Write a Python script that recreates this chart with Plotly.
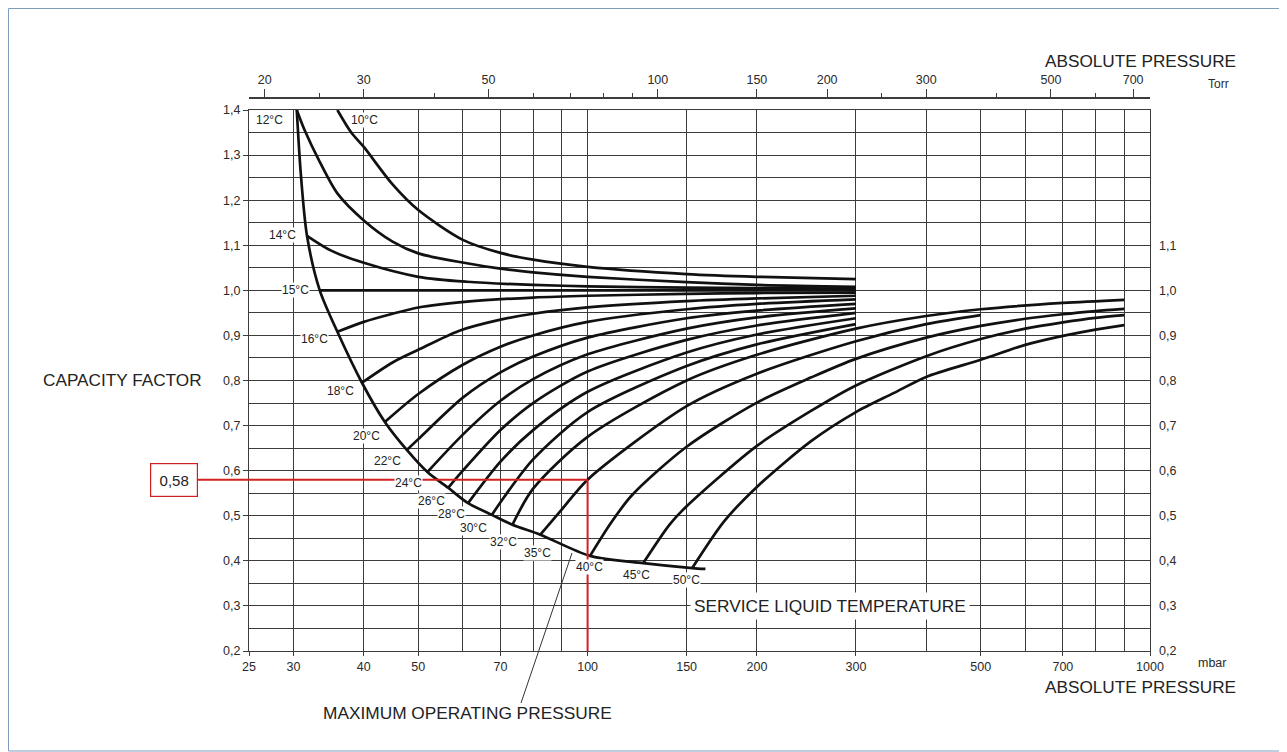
import math
import plotly.graph_objects as go

# ---------------- axis tick data ----------------
x_label_mbar = [25, 30, 40, 50, 70, 100, 150, 200, 300, 500, 700, 1000]
x_minor_mbar = [60, 80, 90, 400, 600, 800, 900]
torr_label = [20, 30, 50, 100, 150, 200, 300, 500, 700]
torr_minor = [25, 40, 60, 70, 80, 90, 250, 400, 600]
y_left = [0.2, 0.3, 0.4, 0.5, 0.6, 0.7, 0.8, 0.9, 1.0, 1.1, 1.2, 1.3, 1.4]
y_right = [0.2, 0.3, 0.4, 0.5, 0.6, 0.7, 0.8, 0.9, 1.0, 1.1]
MBAR_PER_TORR = 1.33322

# ---------------- curve data (mbar, capacity factor) ----------------
env_p = [30.4, 30.9, 31.7, 33.4, 35.9, 39.7, 43.6, 47.7, 51.9, 56.5, 61.3, 67.6, 73.5, 82.4, 101, 125.6, 153.5, 162]
env_f = [1.40, 1.26, 1.121, 1.0, 0.908, 0.795, 0.708, 0.646, 0.597, 0.562, 0.528, 0.502, 0.48, 0.458, 0.411, 0.395, 0.384, 0.382]

p_10 = [35.9, 38, 40, 45, 50, 60, 70, 80, 100, 150, 200, 300]
f_10 = [1.40, 1.35, 1.318, 1.235, 1.178, 1.112, 1.083, 1.068, 1.052, 1.036, 1.030, 1.025]
p_12 = [30.4, 31.4, 33.4, 35.9, 40, 45, 50, 61, 70, 80, 100, 150, 200, 300]
f_12 = [1.40, 1.355, 1.285, 1.215, 1.155, 1.108, 1.082, 1.06, 1.048, 1.04, 1.03, 1.018, 1.012, 1.008]
p_14 = [31.7, 35, 40, 50, 61, 80, 100, 150, 200, 300]
f_14 = [1.121, 1.088, 1.061, 1.03, 1.019, 1.012, 1.009, 1.006, 1.005, 1.004]
p_15 = [33.4, 300]
f_15 = [1.0, 1.0]
p_16 = [35.9, 40, 45, 50, 61, 80, 100, 150, 200, 300]
f_16 = [0.908, 0.93, 0.948, 0.962, 0.975, 0.984, 0.988, 0.992, 0.994, 0.995]
p_18 = [39.7, 45, 50, 59, 70, 80, 100, 150, 200, 300]
f_18 = [0.795, 0.84, 0.868, 0.91, 0.935, 0.948, 0.962, 0.976, 0.982, 0.988]
p_20 = [43.6, 50, 60, 70, 80, 100, 150, 200, 300]
f_20 = [0.708, 0.77, 0.835, 0.875, 0.9, 0.93, 0.958, 0.97, 0.98]
p_22 = [47.7, 50, 60, 70, 80, 100, 150, 200, 300]
f_22 = [0.646, 0.67, 0.762, 0.818, 0.853, 0.895, 0.938, 0.955, 0.97]
p_24 = [51.9, 60, 70, 80, 100, 150, 200, 300]
f_24 = [0.597, 0.68, 0.755, 0.803, 0.858, 0.915, 0.94, 0.96]
p_26 = [56.5, 60, 70, 80, 100, 150, 200, 300]
f_26 = [0.562, 0.6, 0.69, 0.75, 0.82, 0.89, 0.922, 0.95]
p_28 = [61.3, 70, 80, 100, 150, 200, 300]
f_28 = [0.528, 0.62, 0.69, 0.775, 0.862, 0.902, 0.938]
p_30 = [67.6, 70, 80, 100, 150, 200, 300]
f_30 = [0.502, 0.53, 0.625, 0.73, 0.832, 0.88, 0.925]
p_32 = [73.5, 80, 100, 150, 200, 300, 400, 500, 700, 900]
f_32 = [0.48, 0.56, 0.675, 0.8, 0.857, 0.915, 0.943, 0.958, 0.972, 0.979]
p_35 = [82.4, 90, 100, 150, 200, 300, 400, 500]
f_35 = [0.458, 0.514, 0.58, 0.743, 0.815, 0.887, 0.925, 0.945]
p_40 = [101, 110, 120, 150, 200, 250, 300, 400, 500, 600, 700, 800, 900]
f_40 = [0.411, 0.484, 0.546, 0.653, 0.751, 0.807, 0.848, 0.895, 0.921, 0.937, 0.947, 0.954, 0.959]
p_45 = [125.6, 140, 150, 200, 250, 300, 400, 500, 600, 700, 800, 900]
f_45 = [0.395, 0.481, 0.521, 0.655, 0.733, 0.789, 0.854, 0.892, 0.915, 0.929, 0.939, 0.945]
p_50 = [153.5, 175, 200, 250, 300, 350, 400, 500, 600, 700, 800, 900]
f_50 = [0.384, 0.488, 0.564, 0.666, 0.730, 0.772, 0.808, 0.846, 0.879, 0.899, 0.913, 0.923]

curves = [(p_10, f_10), (p_12, f_12), (p_14, f_14), (p_15, f_15), (p_16, f_16),
          (p_18, f_18), (p_20, f_20), (p_22, f_22), (p_24, f_24), (p_26, f_26),
          (p_28, f_28), (p_30, f_30), (p_32, f_32), (p_35, f_35), (p_40, f_40),
          (p_45, f_45), (p_50, f_50)]

# temperature labels and their anchor positions (mbar, factor)
temp_labels = ["12°C", "10°C", "14°C", "15°C", "16°C", "18°C", "20°C", "22°C", "24°C",
               "26°C", "28°C", "30°C", "32°C", "35°C", "40°C", "45°C", "50°C"]
label_p = [27.2, 40.1, 28.7, 30.3, 32.7, 36.3, 40.4, 44.0, 48.0, 52.7, 57.2, 62.8, 70.8, 81.4, 100.7, 122, 149.8]
label_f = [1.378, 1.378, 1.123, 1.0, 0.892, 0.777, 0.677, 0.622, 0.573, 0.533, 0.504, 0.473, 0.442, 0.418, 0.387, 0.369, 0.358]

read_p, read_f = 100, 0.58

# ---------------- figure geometry ----------------
# the page body adds an 8 px margin, so the figure is 8 px smaller than the window
OFF = 8
W, H = 1287 - OFF, 752 - OFF
PL, PR, PT, PB = 249, 1150, 98, 651          # plot box in page pixels (top = Torr axis line)
ML, MT = PL - OFF, PT - OFF
MR, MB = W - (PR - OFF), H - (PB - OFF)
YDOM = 0.9783

FONT = "Liberation Sans, Arial, sans-serif"
GRID = "#3c3c3c"
CURVE = "#111111"
TXT = "#222222"

fig = go.Figure()

for p, f in curves:
    fig.add_trace(go.Scatter(x=p, y=f, mode="lines",
                             line=dict(color=CURVE, width=2.7, shape="spline", smoothing=0.8),
                             hoverinfo="skip", showlegend=False))
fig.add_trace(go.Scatter(x=env_p, y=env_f, mode="lines",
                         line=dict(color=CURVE, width=2.7, shape="spline", smoothing=0.8),
                         hoverinfo="skip", showlegend=False))

# helper traces so that the secondary axes get drawn
fig.add_trace(go.Scatter(x=torr_label, y=[0.2] * len(torr_label), xaxis="x2", yaxis="y",
                         mode="markers", marker=dict(opacity=0), hoverinfo="skip", showlegend=False))
fig.add_trace(go.Scatter(x=[100] * len(y_right), y=y_right, xaxis="x", yaxis="y2",
                         mode="markers", marker=dict(opacity=0), hoverinfo="skip", showlegend=False))

def fmt(v):
    return f"{v:.1f}".replace(".", ",")

tickfont = dict(family=FONT, size=12.5, color="#2a2a2a")

fig.update_layout(
    width=W, height=H,
    margin=dict(l=ML, r=MR, t=MT, b=MB, pad=0),
    paper_bgcolor="white", plot_bgcolor="white",
    font=dict(family=FONT, color=TXT),
    showlegend=False,
    xaxis=dict(type="log", range=[math.log10(25), math.log10(1000)],
               tickvals=x_label_mbar, ticktext=[str(v) for v in x_label_mbar],
               ticks="outside", ticklen=4, tickcolor=GRID, tickfont=tickfont,
               showgrid=True, gridcolor=GRID, gridwidth=1.3,
               minor=dict(tickvals=x_minor_mbar, showgrid=True, gridcolor=GRID, gridwidth=1.3, ticks=""),
               showline=True, linecolor=GRID, linewidth=1.3, mirror=True,
               zeroline=False),
    xaxis2=dict(type="log", overlaying="x", side="top", anchor="free", position=1,
                range=[math.log10(25 / MBAR_PER_TORR), math.log10(1000 / MBAR_PER_TORR)],
                tickvals=torr_label, ticktext=[str(v) for v in torr_label],
                ticks="outside", ticklen=8, tickcolor=GRID, tickfont=tickfont,
                minor=dict(tickvals=torr_minor, ticks="outside", ticklen=4, tickcolor=GRID, showgrid=False),
                showgrid=False, showline=True, linecolor=GRID, linewidth=1.6, zeroline=False),
    yaxis=dict(domain=[0, YDOM], range=[0.2, 1.4],
               tickvals=y_left, ticktext=[fmt(v) for v in y_left],
               ticks="outside", ticklen=5, tickcolor=GRID, tickfont=tickfont,
               showgrid=True, gridcolor=GRID, gridwidth=1.3,
               minor=dict(tick0=0.2, dtick=0.05, showgrid=True, gridcolor=GRID, gridwidth=1.3, ticks=""),
               showline=True, linecolor=GRID, linewidth=1.3, mirror=True,
               zeroline=False),
    yaxis2=dict(overlaying="y", side="right", anchor="x", range=[0.2, 1.4],
                tickvals=y_right, ticktext=[fmt(v) for v in y_right],
                ticks="", ticklabelstandoff=8, tickfont=tickfont,
                showgrid=False, showline=False, zeroline=False),
)

# ---- paper-coordinate helpers derived from the axis scales ----
lx0, lx1 = math.log10(25), math.log10(1000)
def xpaper(mbar):
    return (math.log10(mbar) - lx0) / (lx1 - lx0)
def ypaper(fac):
    return YDOM * (fac - 0.2) / (1.4 - 0.2)
def px2paper_x(px):          # page pixel -> paper
    return (px - PL) / (PR - PL)
def px2paper_y(py):
    return (PB - py) / (PB - PT)

def txt(x, y, s, size, color=TXT, **kw):
    d = dict(x=x, y=y, xref="paper", yref="paper", text=s, showarrow=False,
             xanchor="center", yanchor="middle",
             font=dict(family=FONT, size=size, color=color))
    d.update(kw)
    return d

annotations = []
for s, p, f in zip(temp_labels, label_p, label_f):
    annotations.append(dict(x=math.log10(p), y=f, xref="x", yref="y", text=s, showarrow=False,
                            xanchor="center", yanchor="middle",
                            font=dict(family=FONT, size=12, color=TXT),
                            bgcolor="white", borderpad=0))

annotations += [
    txt(px2paper_x(830), ypaper(0.3), "SERVICE LIQUID TEMPERATURE", 17.3, bgcolor="white", borderpad=3),
    txt(px2paper_x(467), px2paper_y(713), "MAXIMUM OPERATING PRESSURE", 17.3),
    txt(px2paper_x(1140), px2paper_y(61), "ABSOLUTE PRESSURE", 17.2),
    txt(px2paper_x(1140), px2paper_y(687), "ABSOLUTE PRESSURE", 17.2),
    txt(px2paper_x(1218), px2paper_y(84), "Torr", 12, "#2a2a2a"),
    txt(px2paper_x(1212), px2paper_y(663), "mbar", 12.5, "#2a2a2a"),
    txt(px2paper_x(122), px2paper_y(380), "CAPACITY FACTOR", 17.2),
    txt(px2paper_x(174), ypaper(read_f), "0,58", 15,
        bgcolor="white", bordercolor="#cc1f1f", borderwidth=1.2, width=44, height=30),
]
fig.update_layout(annotations=annotations)

shapes = [
    # red reading lines
    dict(type="line", xref="paper", yref="paper", x0=px2paper_x(198), x1=xpaper(read_p),
         y0=ypaper(read_f), y1=ypaper(read_f), line=dict(color="#d42020", width=2)),
    dict(type="line", xref="paper", yref="paper", x0=xpaper(read_p), x1=xpaper(read_p),
         y0=ypaper(read_f), y1=0, line=dict(color="#d42020", width=2)),
    # leader line for maximum operating pressure
    dict(type="line", xref="paper", yref="paper", x0=px2paper_x(521), y0=px2paper_y(703),
         x1=px2paper_x(572), y1=px2paper_y(553), line=dict(color="#333333", width=1)),
    # outer frame
    dict(type="rect", xref="paper", yref="paper", x0=px2paper_x(8.5), x1=px2paper_x(1286),
         y0=px2paper_y(751), y1=px2paper_y(8.5), line=dict(color="#7f9cbf", width=1)),
]
fig.update_layout(shapes=shapes)

fig.write_html("out.html")
